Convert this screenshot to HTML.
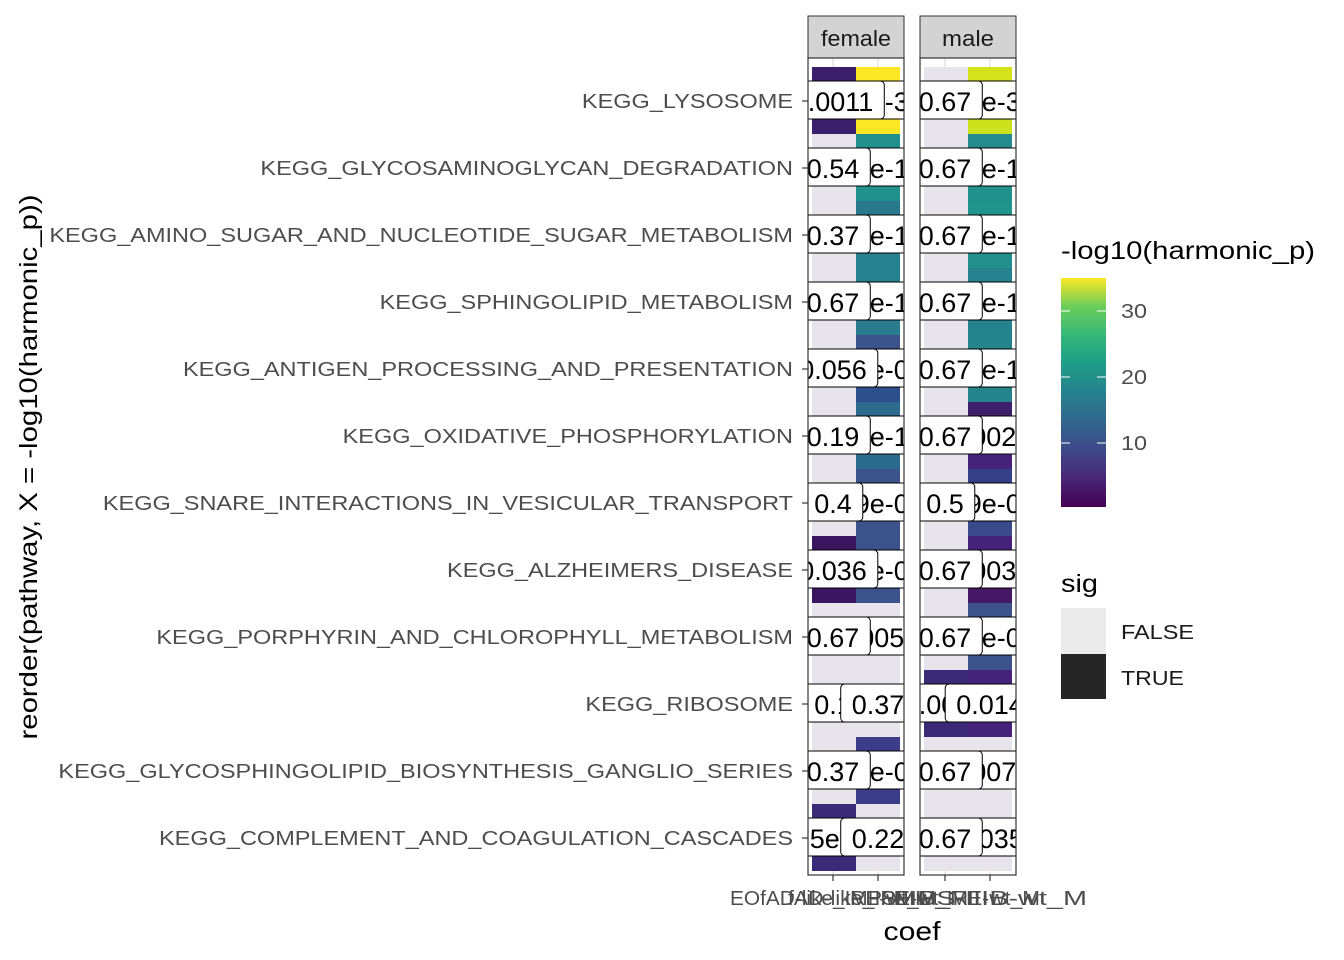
<!DOCTYPE html>
<html><head><meta charset="utf-8">
<style>
html,body{margin:0;padding:0;background:#fff;}
svg{display:block;font-family:"Liberation Sans",Arial,sans-serif;}
.yl{font-size:20px;fill:#4d4d4d;text-anchor:end;}
.lb text{font-size:27px;fill:#000;text-anchor:middle;}
#tiles rect{shape-rendering:crispEdges;}
</style></head>
<body>
<svg id="s" width="1344" height="960" viewBox="0 0 1344 960" xmlns="http://www.w3.org/2000/svg">
<defs>
<clipPath id="cf"><rect x="808" y="58" width="96" height="817"/></clipPath>
<clipPath id="cm"><rect x="920" y="58" width="96" height="817"/></clipPath>
</defs>
<rect x="0" y="0" width="1344" height="960" fill="#fff"/>
<rect x="808" y="16" width="96" height="42" fill="#d3d3d3" stroke="#333" stroke-width="1"/>
<rect x="920" y="16" width="96" height="42" fill="#d3d3d3" stroke="#333" stroke-width="1"/>
<text x="856" y="46" font-size="22" text-anchor="middle" fill="#1a1a1a" textLength="70" lengthAdjust="spacingAndGlyphs">female</text>
<text x="968" y="46" font-size="22" text-anchor="middle" fill="#1a1a1a" textLength="52" lengthAdjust="spacingAndGlyphs">male</text>
<rect x="808" y="58" width="96" height="817" fill="#fff"/>
<rect x="920" y="58" width="96" height="817" fill="#fff"/>
<g stroke="#ebebeb" stroke-width="2">
<line x1="833" y1="58" x2="833" y2="875"/><line x1="878" y1="58" x2="878" y2="875"/>
<line x1="945" y1="58" x2="945" y2="875"/><line x1="990" y1="58" x2="990" y2="875"/>
</g>
<g id="tiles"></g>
<g clip-path="url(#cf)" id="labF">
<g class="lb"><text x="878" y="111">3.2e-32</text></g><g class="lb"><text x="833" y="111">0.0011</text></g>
<g class="lb"><text x="878" y="178">1.5e-17</text></g><g class="lb"><text x="833" y="178">0.54</text></g>
<g class="lb"><text x="878" y="245">2.1e-15</text></g><g class="lb"><text x="833" y="245">0.37</text></g>
<g class="lb"><text x="878" y="312">1.9e-14</text></g><g class="lb"><text x="833" y="312">0.67</text></g>
<g class="lb"><text x="878" y="379">4.6e-09</text></g><g class="lb"><text x="833" y="379">0.056</text></g>
<g class="lb"><text x="878" y="446">3.3e-10</text></g><g class="lb"><text x="833" y="446">0.19</text></g>
<g class="lb"><text x="878" y="513">9.9e-08</text></g><g class="lb"><text x="833" y="513">0.4</text></g>
<g class="lb"><text x="878" y="580">5.1e-08</text></g><g class="lb"><text x="833" y="580">0.036</text></g>
<g class="lb"><text x="878" y="647">0.0056</text></g><g class="lb"><text x="833" y="647">0.67</text></g>
<g class="lb"><text x="833" y="714">0.1</text></g><g class="lb"><text x="878" y="714">0.37</text></g>
<g class="lb"><text x="878" y="781">2.1e-06</text></g><g class="lb"><text x="833" y="781">0.37</text></g>
<g class="lb"><text x="833" y="848">2.5e-05</text></g><g class="lb"><text x="878" y="848">0.22</text></g>
</g>
<g clip-path="url(#cm)" id="labM">
<g class="lb"><text x="990" y="111">1.2e-30</text></g><g class="lb"><text x="945" y="111">0.67</text></g>
<g class="lb"><text x="990" y="178">4.2e-18</text></g><g class="lb"><text x="945" y="178">0.67</text></g>
<g class="lb"><text x="990" y="245">3.1e-16</text></g><g class="lb"><text x="945" y="245">0.67</text></g>
<g class="lb"><text x="990" y="312">1.2e-15</text></g><g class="lb"><text x="945" y="312">0.67</text></g>
<g class="lb"><text x="990" y="379">2.5e-15</text></g><g class="lb"><text x="945" y="379">0.67</text></g>
<g class="lb"><text x="990" y="446">0.0025</text></g><g class="lb"><text x="945" y="446">0.67</text></g>
<g class="lb"><text x="990" y="513">9.9e-06</text></g><g class="lb"><text x="945" y="513">0.5</text></g>
<g class="lb"><text x="990" y="580">0.0039</text></g><g class="lb"><text x="945" y="580">0.67</text></g>
<g class="lb"><text x="990" y="647">1.3e-06</text></g><g class="lb"><text x="945" y="647">0.67</text></g>
<g class="lb"><text x="945" y="714">0.0013</text></g><g class="lb"><text x="990" y="714">0.014</text></g>
<g class="lb"><text x="990" y="781">0.0072</text></g><g class="lb"><text x="945" y="781">0.67</text></g>
<g class="lb"><text x="990" y="848">0.035</text></g><g class="lb"><text x="945" y="848">0.67</text></g>
</g>
<rect x="808" y="58" width="96" height="817" fill="none" stroke="#333" stroke-width="1.2"/>
<rect x="920" y="58" width="96" height="817" fill="none" stroke="#333" stroke-width="1.2"/>
<g id="yt" stroke="#333" stroke-width="1.2"></g>
<g transform="translate(793,0) scale(1.175,1) translate(-793,0)">
<text class="yl" x="793" y="108">KEGG_LYSOSOME</text>
<text class="yl" x="793" y="175">KEGG_GLYCOSAMINOGLYCAN_DEGRADATION</text>
<text class="yl" x="793" y="242">KEGG_AMINO_SUGAR_AND_NUCLEOTIDE_SUGAR_METABOLISM</text>
<text class="yl" x="793" y="309">KEGG_SPHINGOLIPID_METABOLISM</text>
<text class="yl" x="793" y="376">KEGG_ANTIGEN_PROCESSING_AND_PRESENTATION</text>
<text class="yl" x="793" y="443">KEGG_OXIDATIVE_PHOSPHORYLATION</text>
<text class="yl" x="793" y="510">KEGG_SNARE_INTERACTIONS_IN_VESICULAR_TRANSPORT</text>
<text class="yl" x="793" y="577">KEGG_ALZHEIMERS_DISEASE</text>
<text class="yl" x="793" y="644">KEGG_PORPHYRIN_AND_CHLOROPHYLL_METABOLISM</text>
<text class="yl" x="793" y="711">KEGG_RIBOSOME</text>
<text class="yl" x="793" y="778">KEGG_GLYCOSPHINGOLIPID_BIOSYNTHESIS_GANGLIO_SERIES</text>
<text class="yl" x="793" y="845">KEGG_COMPLEMENT_AND_COAGULATION_CASCADES</text>
</g>
<text x="37" y="467" font-size="25" text-anchor="middle" transform="rotate(-90 37 467)" fill="#000" textLength="545" lengthAdjust="spacingAndGlyphs">reorder(pathway, X = -log10(harmonic_p))</text>
<g stroke="#333" stroke-width="1.2">
<line x1="833" y1="875" x2="833" y2="881"/><line x1="878" y1="875" x2="878" y2="881"/>
<line x1="945" y1="875" x2="945" y2="881"/><line x1="990" y1="875" x2="990" y2="881"/>
</g>
<g font-size="20" fill="#4d4d4d" text-anchor="middle">
<text x="833" y="905" textLength="206" lengthAdjust="spacingAndGlyphs">EOfAD-like_IRE-wt_M</text>
<text x="878" y="905" textLength="180" lengthAdjust="spacingAndGlyphs">fAD-like_IRE-wt_M</text>
<text x="945" y="905" textLength="190" lengthAdjust="spacingAndGlyphs">MPS-IIIB_IRE-wt_M</text>
<text x="990" y="905" textLength="194" lengthAdjust="spacingAndGlyphs">MPS-IIIB-wt_M</text>
</g>
<text x="912" y="940" font-size="26" text-anchor="middle" fill="#000" textLength="57" lengthAdjust="spacingAndGlyphs">coef</text>
<defs><linearGradient id="vir" x1="0" y1="1" x2="0" y2="0">
<stop offset="0" stop-color="#440154"/><stop offset="0.13" stop-color="#482878"/><stop offset="0.25" stop-color="#3e4989"/>
<stop offset="0.38" stop-color="#31688e"/><stop offset="0.5" stop-color="#26828e"/><stop offset="0.63" stop-color="#1f9e89"/>
<stop offset="0.75" stop-color="#35b779"/><stop offset="0.88" stop-color="#6ece58"/><stop offset="1" stop-color="#fde725"/>
</linearGradient></defs>
<text x="1061" y="259" font-size="25" fill="#000" textLength="254" lengthAdjust="spacingAndGlyphs">-log10(harmonic_p)</text>
<rect x="1061" y="278" width="45" height="229" fill="url(#vir)"/>
<g stroke="#fff" stroke-width="1">
<line x1="1061" y1="311" x2="1070" y2="311"/><line x1="1097" y1="311" x2="1106" y2="311"/>
<line x1="1061" y1="377" x2="1070" y2="377"/><line x1="1097" y1="377" x2="1106" y2="377"/>
<line x1="1061" y1="443" x2="1070" y2="443"/><line x1="1097" y1="443" x2="1106" y2="443"/>
</g>
<g font-size="20" fill="#4d4d4d">
<text x="1121" y="318" textLength="26" lengthAdjust="spacingAndGlyphs">30</text>
<text x="1121" y="384" textLength="26" lengthAdjust="spacingAndGlyphs">20</text>
<text x="1121" y="450" textLength="26" lengthAdjust="spacingAndGlyphs">10</text>
</g>
<text x="1061" y="592" font-size="25" fill="#000" textLength="37" lengthAdjust="spacingAndGlyphs">sig</text>
<rect x="1061" y="608" width="45" height="46" fill="#ebebeb"/>
<rect x="1061" y="654" width="45" height="45" fill="#262626"/>
<g font-size="20" fill="#1a1a1a">
<text x="1121" y="639" textLength="73" lengthAdjust="spacingAndGlyphs">FALSE</text>
<text x="1121" y="685" textLength="63" lengthAdjust="spacingAndGlyphs">TRUE</text>
</g>
</svg>
<script>
(function(){
var NS="http://www.w3.org/2000/svg";
var L="#e8e4ec";
var d=[
["#3b1f6b","#fde725",L,"#d5e21a","#3b1f6b","#fde725",L,"#cde11d"],
[L,"#21908c",L,"#238a8d",L,"#21918c",L,"#21918c"],
[L,"#2a788e",L,"#1f958b",L,"#26818e",L,"#21908c"],
[L,"#26818e",L,"#26828e",L,"#287c8e",L,"#25838e"],
[L,"#3b528b",L,"#25838e",L,"#2d4f8b",L,"#25838e"],
[L,"#2c6b8e",L,"#3d1f6b",L,"#2b6c8e",L,"#46237a"],
[L,"#3b528b",L,"#343f87",L,"#3b528b",L,"#3a4a8a"],
["#3b1560","#3b528b",L,"#46237a","#3b1560","#3b528b",L,"#431764"],
[L,L,L,"#3b528b",L,L,L,"#3b528b"],
[L,L,"#3b2a78","#46237a",L,L,"#3b2a78","#46237a"],
[L,"#3b3d8a",L,L,L,"#3b3d8a",L,L],
["#3b2a78",L,L,L,"#3b2a78",L,L,L]
];
var g=document.getElementById("tiles");
function r(x,y,w,h,c){var e=document.createElementNS(NS,"rect");e.setAttribute("x",x);e.setAttribute("y",y);e.setAttribute("width",w);e.setAttribute("height",h);e.setAttribute("fill",c);g.appendChild(e);}
var xs=[812,856,924,968];
for(var i=0;i<12;i++){var c=101+67*i;var row=d[i];
 for(var k=0;k<4;k++){r(xs[k],c-34,(k%2?44:45),14,row[k]);r(xs[k],c+18,(k%2?44:45),15,row[4+k]);}
}
var yt=document.getElementById("yt");
for(var i=0;i<12;i++){var c=101+67*i;var e=document.createElementNS(NS,"line");e.setAttribute("x1",802);e.setAttribute("x2",808);e.setAttribute("y1",c);e.setAttribute("y2",c);yt.appendChild(e);}
var lbs=document.querySelectorAll(".lb");
for(var j=0;j<lbs.length;j++){var t=lbs[j].querySelector("text");var b=t.getBBox();
 var cx=b.x+b.width/2;var w=b.width+22;var y=parseFloat(t.getAttribute("y"));
 var e=document.createElementNS(NS,"rect");e.setAttribute("x",cx-w/2);e.setAttribute("y",y-30);e.setAttribute("width",w);e.setAttribute("height",38);
 e.setAttribute("rx",4);e.setAttribute("fill","#fff");e.setAttribute("stroke","#000");e.setAttribute("stroke-width","1");
 lbs[j].insertBefore(e,t);}
})();
</script>
</body></html>
